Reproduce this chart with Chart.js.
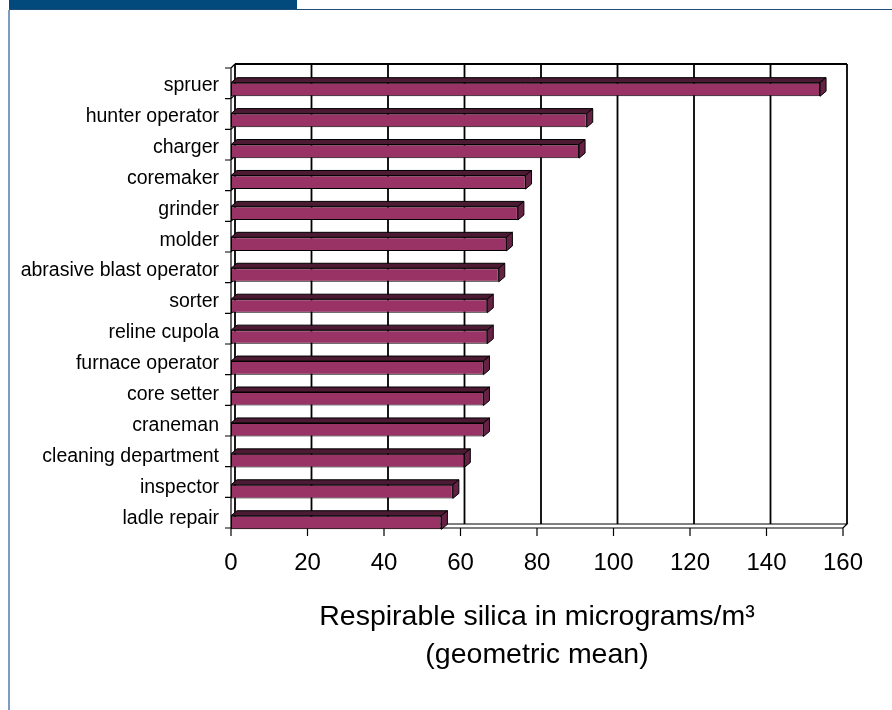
<!DOCTYPE html>
<html lang="en">
<head>
<meta charset="UTF-8">
<title>Respirable silica by job</title>
<script src="https://cdn.jsdelivr.net/npm/chart.js"></script>
<style>
  html, body { margin: 0; padding: 0; background: #fff; }
  #page { position: relative; width: 892px; height: 710px; overflow: hidden; }
  #band { position: absolute; left: 9px; top: 0; width: 288px; height: 9px; background: #02497c; }
  #rule { position: absolute; left: 9px; right: 0; top: 9px; height: 1px; background: #1e4d78; }
  #side { position: absolute; left: 8px; top: 10px; bottom: 0; width: 2px; background: #7d9dbf; }
  #myChart { position: absolute; left: 0; top: 0; }
</style>
</head>
<body>
<div id="page">
  <div id="band"></div>
  <div id="rule"></div>
  <div id="side"></div>
  <canvas id="myChart" width="892" height="710"></canvas>
</div>
<script>
// job categories, top to bottom
const jobs = ["spruer", "hunter operator", "charger", "coremaker", "grinder", "molder",
  "abrasive blast operator", "sorter", "reline cupola", "furnace operator", "core setter",
  "craneman", "cleaning department", "inspector", "ladle repair"];
// geometric mean, micrograms/m3
const silica = [154, 93, 91, 77, 75, 72, 70, 67, 67, 66, 66, 66, 61, 58, 55];
const xMin = 0, xMax = 160, xStep = 20;
const titleLines = ["Respirable silica in micrograms/m\u00b3", "(geometric mean)"];

const FACE = "#993366", TOP = "#4d1a33", SIDE = "#662244";

// fake 3D: back wall, floor, left wall and the top/side faces of each bar
const box3d = {
  id: "box3d",
  beforeDatasetsDraw(chart) {
    const {ctx, chartArea: a, scales: {x}} = chart;
    const wx = 4, wy = 4;               // wall depth
    const top = a.top - 6, bot = a.bottom - 10;
    ctx.save();
    ctx.strokeStyle = "#000";
    ctx.lineWidth = 1.8;
    ctx.beginPath();
    // back wall gridlines
    for (let v = xMin; v <= xMax; v += xStep) {
      const px = x.getPixelForValue(v);
      ctx.moveTo(px + wx, top - wy);
      ctx.lineTo(px + wx, bot - wy);
    }
    ctx.moveTo(x.getPixelForValue(xMin) + wx, top - wy);
    ctx.lineTo(x.getPixelForValue(xMax) + wx, top - wy);
    ctx.stroke();
    ctx.lineWidth = 1.2;
    ctx.beginPath();
    // floor
    const x0 = x.getPixelForValue(xMin), x1 = x.getPixelForValue(xMax);
    ctx.moveTo(x0 + wx, bot - wy); ctx.lineTo(x1 + wx, bot - wy);
    ctx.lineTo(x1, bot); ctx.lineTo(x0, bot);
    // left wall
    ctx.moveTo(x0, bot); ctx.lineTo(x0, top);
    ctx.lineTo(x0 + wx, top - wy);
    // x ticks
    for (let v = xMin; v <= xMax; v += xStep) {
      const px = x.getPixelForValue(v);
      ctx.moveTo(px, bot); ctx.lineTo(px, bot + 8);
    }
    // y ticks on the category boundaries
    const n = jobs.length;
    for (let i = 0; i <= n; i++) {
      const py = top + (bot - top) * i / n;
      ctx.moveTo(x0 - 6, py); ctx.lineTo(x0, py); ctx.lineTo(x0 + wx, py - wy);
    }
    ctx.stroke();
    ctx.restore();
  },
  afterDatasetsDraw(chart) {
    const {ctx} = chart;
    const dx = 6, dy = 5;               // bar depth
    ctx.save();
    ctx.strokeStyle = "#000";
    ctx.lineWidth = 1;
    chart.getDatasetMeta(0).data.forEach(bar => {
      const {x, y, base, height} = bar.getProps(["x", "y", "base", "height"], true);
      const t = y - height / 2, b = y + height / 2;
      ctx.beginPath();
      ctx.moveTo(base, t); ctx.lineTo(x, t);
      ctx.lineTo(x + dx, t - dy); ctx.lineTo(base + dx, t - dy);
      ctx.closePath();
      ctx.fillStyle = TOP; ctx.fill(); ctx.stroke();
      ctx.beginPath();
      ctx.moveTo(x, t); ctx.lineTo(x + dx, t - dy);
      ctx.lineTo(x + dx, b - dy); ctx.lineTo(x, b);
      ctx.closePath();
      ctx.fillStyle = SIDE; ctx.fill(); ctx.stroke();
    });
    ctx.restore();
  }
};

const ctx = document.querySelector("#myChart");
const silicaChart = new Chart(ctx, {
  type: "bar",
  data: {
    labels: jobs,
    datasets: [{
      data: silica,
      backgroundColor: FACE,
      borderColor: "#000",
      borderWidth: 1,
      borderSkipped: false,
      categoryPercentage: 1,
      barPercentage: 0.44
    }]
  },
  options: {
    indexAxis: "y",
    responsive: false,
    animation: false,
    layout: { padding: { left: 0, top: 74, right: 49, bottom: 0 } },
    plugins: { legend: { display: false }, tooltip: { enabled: false } },
    scales: {
      x: {
        min: xMin, max: xMax,
        afterFit(s) { s.height = 172; },
        grid: { display: false, drawTicks: false },
        border: { display: false },
        ticks: { stepSize: xStep, padding: 11, color: "#000",
                 font: { family: "'Liberation Sans', Arial", size: 24 } },
        title: { display: true, text: titleLines, color: "#000",
                 padding: { top: 0, bottom: 36 },
                 font: { family: "'Liberation Sans', Arial", size: 28.5, lineHeight: 1.34 } }
      },
      y: {
        afterFit(s) { s.width = 231; },
        grid: { display: false, drawTicks: false },
        border: { display: false },
        ticks: { padding: 12, labelOffset: -4, color: "#000",
                 font: { family: "'Liberation Sans', Arial", size: 19.5 } }
      }
    }
  },
  plugins: [box3d]
});
</script>
</body>
</html>
